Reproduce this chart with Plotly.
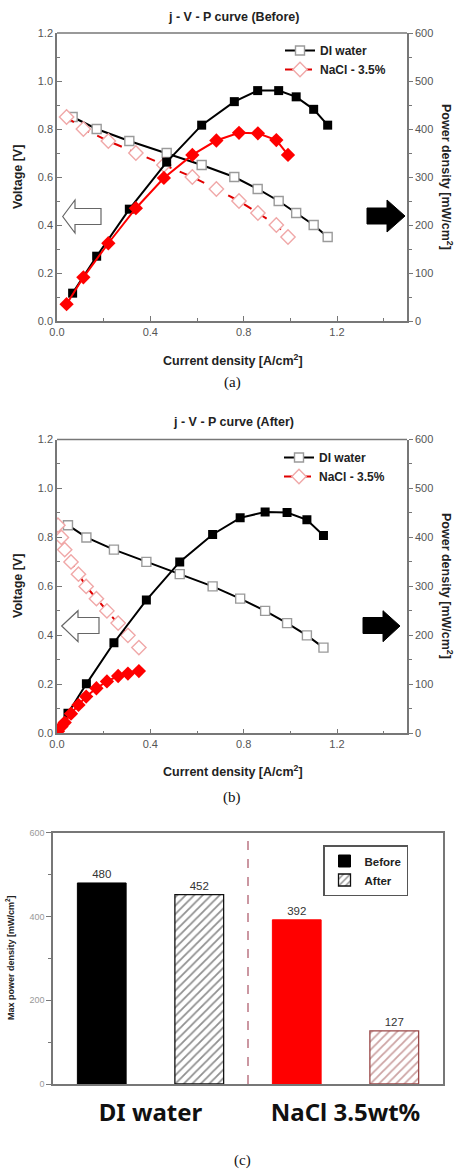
import plotly.graph_objects as go

# ---------------- data ----------------
voltage_steps = [0.85, 0.80, 0.75, 0.70, 0.65, 0.60, 0.55, 0.50, 0.45, 0.40, 0.35]

# (a) Before
j_before_di = [0.067, 0.17, 0.31, 0.47, 0.62, 0.76, 0.86, 0.95, 1.025, 1.10, 1.16]
p_before_di = [58, 135, 233, 331, 408, 457, 480, 480, 467, 441, 408]
j_before_nacl = [0.041, 0.113, 0.22, 0.338, 0.458, 0.58, 0.683, 0.78, 0.861, 0.94, 0.99]
p_before_nacl = [35, 91, 162, 235, 298, 346, 376, 392, 391, 377, 346]

# (b) After
j_after_di = [0.047, 0.126, 0.244, 0.383, 0.526, 0.667, 0.785, 0.892, 0.986, 1.071, 1.142]
p_after_di = [41, 101, 185, 272, 350, 406, 440, 452, 451, 436, 404]
j_after_nacl = [0.004, 0.019, 0.033, 0.06, 0.092, 0.125, 0.169, 0.214, 0.262, 0.304, 0.351]
p_after_nacl = [4, 14, 22, 40, 58, 75, 92, 106, 117, 122, 127]

# (c) Max power density
bar_categories = ["DI water", "NaCl 3.5wt%"]
max_power_before = [480, 392]
max_power_after = [452, 127]

# ---------------- helpers ----------------
W, H = 454, 1171
def PX(x): return x / W
def PY(y): return 1 - y / H

FONT = "Liberation Sans"
GRID = "#777777"
TICKC = "#555555"

fig = go.Figure()

def jv_panel(xa, ya_l, ya_r, leg, j_di, p_di, j_na, p_na):
    fig.add_trace(go.Scatter(x=j_di, y=voltage_steps, xaxis=xa, yaxis=ya_l, mode="lines+markers",
                             name="DI water", legend=leg,
                             line=dict(color="black", width=2),
                             marker=dict(symbol="square", size=9, color="white",
                                         line=dict(color="#9a9a9a", width=1.4))))
    fig.add_trace(go.Scatter(x=j_na, y=voltage_steps, xaxis=xa, yaxis=ya_l, mode="lines+markers",
                             name="NaCl - 3.5%", legend=leg,
                             line=dict(color="#e00000", width=2, dash="dash"),
                             marker=dict(symbol="diamond", size=11, color="white",
                                         line=dict(color="#f0a8a8", width=1.4))))
    fig.add_trace(go.Scatter(x=j_di, y=p_di, xaxis=xa, yaxis=ya_r, mode="lines+markers",
                             showlegend=False, line=dict(color="black", width=2),
                             marker=dict(symbol="square", size=9, color="black")))
    fig.add_trace(go.Scatter(x=j_na, y=p_na, xaxis=xa, yaxis=ya_r, mode="lines+markers",
                             showlegend=False, line=dict(color="#ff0000", width=2),
                             marker=dict(symbol="diamond", size=11, color="#ff0000")))

jv_panel("x", "y", "y2", "legend", j_before_di, p_before_di, j_before_nacl, p_before_nacl)
jv_panel("x2", "y3", "y4", "legend2", j_after_di, p_after_di, j_after_nacl, p_after_nacl)

# bars
fig.add_trace(go.Bar(x=bar_categories, y=max_power_before, xaxis="x3", yaxis="y5",
                     name="Before", legend="legend3",
                     marker=dict(color=["black", "#ff0000"], line=dict(color=["black", "#ff0000"], width=1)),
                     text=max_power_before, textposition="outside", cliponaxis=False,
                     textfont=dict(family=FONT, size=11.5, color="#333333")))
fig.add_trace(go.Bar(x=bar_categories, y=max_power_after, xaxis="x3", yaxis="y5",
                     name="After", legend="legend3",
                     marker=dict(color="white",
                                 line=dict(color=["#111111", "#9a4848"], width=1.3),
                                 pattern=dict(shape="/", fgcolor=["#222222", "#9a4848"],
                                              bgcolor="white", size=6, solidity=0.3)),
                     text=max_power_after, textposition="outside", cliponaxis=False,
                     textfont=dict(family=FONT, size=11.5, color="#333333")))

# ---------------- axes ----------------
def xax(domain, anchor):
    return dict(domain=domain, anchor=anchor, range=[0, 1.5], tickvals=[0, 0.4, 0.8, 1.2],
                ticktext=["0.0", "0.4", "0.8", "1.2"], ticks="inside", ticklen=5,
                tickcolor=GRID, minor=dict(tickvals=[0.2, 0.6, 1.0, 1.4], ticks="inside", ticklen=3, tickcolor=GRID),
                showline=True, linecolor=GRID, linewidth=1.5, mirror=False, showgrid=False, zeroline=False,
                automargin=False,
                tickfont=dict(family=FONT, size=11, color=TICKC))

def yl(domain, anchor):
    return dict(domain=domain, anchor=anchor, range=[0, 1.2], dtick=0.2, tickformat=".1f",
                ticks="inside", ticklen=5, tickcolor=GRID,
                minor=dict(dtick=0.1, ticks="inside", ticklen=3, tickcolor=GRID),
                showline=True, linecolor=GRID, linewidth=1.5, showgrid=False, zeroline=False,
                automargin=False,
                tickfont=dict(family=FONT, size=11, color=TICKC))

def yr(overlay, anchor):
    return dict(overlaying=overlay, anchor=anchor, side="right", range=[0, 600], dtick=100,
                ticks="outside", ticklen=4, tickcolor=GRID,
                minor=dict(dtick=50, ticks="outside", ticklen=3, tickcolor=GRID),
                showline=True, linecolor=GRID, linewidth=1.5, showgrid=False, zeroline=False,
                automargin=False,
                tickfont=dict(family=FONT, size=11, color=TICKC))

dom_a_x = [PX(57), PX(407)]
dom_a_y = [PY(321), PY(33)]
dom_b_x = [PX(57), PX(407)]
dom_b_y = [PY(733.3), PY(439.5)]
dom_c_x = [PX(53), PX(443)]
dom_c_y = [PY(1084), PY(832.7)]

fig.update_layout(
    xaxis=xax(dom_a_x, "y"), yaxis=yl(dom_a_y, "x"), yaxis2=yr("y", "x"),
    xaxis2=xax(dom_b_x, "y3"), yaxis3=yl(dom_b_y, "x2"), yaxis4=yr("y3", "x2"),
    xaxis3=dict(domain=dom_c_x, anchor="y5", range=[-0.5, 1.5], showline=True, linecolor=GRID,
                linewidth=1.5, mirror=True, ticks="", showgrid=False, zeroline=False, automargin=False,
                tickfont=dict(family="Noto Sans", size=24, color="#111111", weight="bold"),
                ticklabelstandoff=6),
    yaxis5=dict(domain=dom_c_y, anchor="x3", range=[0, 600], dtick=200, ticks="outside", ticklen=5,
                tickcolor=GRID, minor=dict(dtick=100, ticks="outside", ticklen=3, tickcolor=GRID),
                showline=True, linecolor=GRID, linewidth=1.5, mirror=True, showgrid=False, zeroline=False,
                automargin=False,
                tickfont=dict(family=FONT, size=9, color="#999999")),
    barmode="group", bargap=0, bargroupgap=0.5,
    width=W, height=H, margin=dict(l=0, r=0, t=0, b=0, autoexpand=False),
    paper_bgcolor="white", plot_bgcolor="white",
    legend=dict(x=PX(280), y=PY(36), xanchor="left", yanchor="top", bgcolor="rgba(0,0,0,0)",
                font=dict(family=FONT, size=12, color="#222222", weight="bold"), tracegroupgap=0),
    legend2=dict(x=PX(279), y=PY(443), xanchor="left", yanchor="top", bgcolor="rgba(0,0,0,0)",
                 font=dict(family=FONT, size=12, color="#222222", weight="bold"), tracegroupgap=0),
    legend3=dict(x=PX(323), y=PY(845), xanchor="left", yanchor="top", bgcolor="white",
                 bordercolor="#555555", borderwidth=1.5,
                 font=dict(family=FONT, size=11.5, color="#222222", weight="bold"), tracegroupgap=0),
    showlegend=True,
)

shapes = []
for (dx, dy) in [(dom_a_x, dom_a_y), (dom_b_x, dom_b_y)]:
    shapes.append(dict(type="line", xref="paper", yref="paper", x0=dx[0], x1=dx[1], y0=dy[1], y1=dy[1],
                       line=dict(color=GRID, width=1.5)))

def arrow_left(tip, base_x, head_top, head_bot, body_top, body_bot, body_end):
    tx, ty = tip
    p = (f"M{PX(tx)},{PY(ty)} L{PX(base_x)},{PY(head_top)} L{PX(base_x)},{PY(body_top)} "
         f"L{PX(body_end)},{PY(body_top)} L{PX(body_end)},{PY(body_bot)} L{PX(base_x)},{PY(body_bot)} "
         f"L{PX(base_x)},{PY(head_bot)} Z")
    return dict(type="path", xref="paper", yref="paper", path=p, fillcolor="white",
                line=dict(color="#666666", width=1.2))

def arrow_right(tip, base_x, head_top, head_bot, body_top, body_bot, body_start):
    tx, ty = tip
    p = (f"M{PX(tx)},{PY(ty)} L{PX(base_x)},{PY(head_top)} L{PX(base_x)},{PY(body_top)} "
         f"L{PX(body_start)},{PY(body_top)} L{PX(body_start)},{PY(body_bot)} L{PX(base_x)},{PY(body_bot)} "
         f"L{PX(base_x)},{PY(head_bot)} Z")
    return dict(type="path", xref="paper", yref="paper", path=p, fillcolor="black",
                line=dict(color="black", width=1))

shapes.append(arrow_left((62.7, 216.5), 75, 200, 233, 208.5, 224.5, 101))
shapes.append(arrow_right((405, 216), 387, 200, 232, 208, 224, 367))
shapes.append(arrow_left((61.7, 626), 78, 610.7, 641.7, 617.5, 633.5, 99))
shapes.append(arrow_right((400, 626), 383, 610.7, 641.7, 617.5, 633.5, 363))

# dashed divider between groups in (c)
shapes.append(dict(type="line", xref="x3", yref="y5 domain", x0=0.5, x1=0.5, y0=0, y1=1,
                   line=dict(color="#b06070", width=1.3, dash="dash")))
fig.update_layout(shapes=shapes)

ann = []
def text(x, y, s, size, family=FONT, bold=True, color="#222222", angle=0):
    ann.append(dict(x=PX(x), y=PY(y), xref="paper", yref="paper", text=s, showarrow=False,
                    xanchor="center", yanchor="middle", textangle=angle,
                    font=dict(family=family, size=size, color=color, weight="bold" if bold else "normal")))

text(233, 17, "j - V - P curve (Before)", 12.5)
text(233, 421.5, "j - V - P curve (After)", 12.5)
text(233, 360, "Current density [A/cm<sup>2</sup>]", 12.5)
text(233, 771, "Current density [A/cm<sup>2</sup>]", 12.5)
text(18, 177, "Voltage [V]", 12.5, angle=-90)
text(18, 586, "Voltage [V]", 12.5, angle=-90)
text(447, 177, "Power density [mW/cm<sup>2</sup>]", 12.5, angle=90)
text(447, 586, "Power density [mW/cm<sup>2</sup>]", 12.5, angle=90)
text(10, 958, "Max power density [mW/cm<sup>2</sup>]", 9, angle=-90)
text(232, 382, "(a)", 15, family="Liberation Serif", bold=False, color="#111111")
text(232, 797, "(b)", 15, family="Liberation Serif", bold=False, color="#111111")
text(242, 1160, "(c)", 15, family="Liberation Serif", bold=False, color="#111111")
fig.update_layout(annotations=ann)

fig.write_html("out.html", config={"displayModeBar": False},
               post_script="document.body.style.margin='0';document.body.style.overflow='hidden';")
